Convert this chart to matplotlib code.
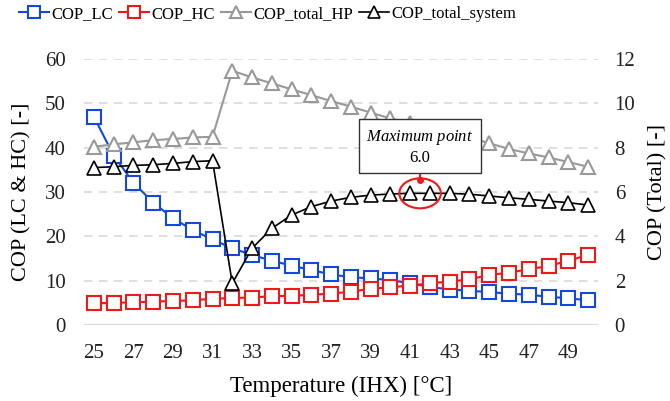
import matplotlib
matplotlib.use("Agg")
import matplotlib.pyplot as plt
from matplotlib.patches import Ellipse
from matplotlib.lines import Line2D

plt.rcParams['font.family'] = ['Liberation Serif', 'DejaVu Serif']
plt.rcParams['mathtext.fontset'] = 'custom'
plt.rcParams['mathtext.rm'] = 'Liberation Serif'
plt.rcParams['mathtext.it'] = 'Liberation Serif:italic'

temperature = list(range(25, 51))
cop_lc = [47.0, 38.2, 32.1, 27.6, 24.1, 21.4, 19.3, 17.3, 15.8, 14.5, 13.4, 12.4, 11.4,
          10.8, 10.5, 10.15, 9.4, 8.6, 8.0, 7.75, 7.4, 7.1, 6.8, 6.4, 6.0, 5.6]
cop_hc = [4.9, 5.0, 5.1, 5.3, 5.4, 5.6, 5.9, 6.1, 6.2, 6.5, 6.6, 6.8, 7.1,
          7.5, 8.2, 8.5, 8.9, 9.4, 9.8, 10.3, 11.3, 11.8, 12.6, 13.3, 14.5, 15.8]
cop_total_hp = [8.04, 8.15, 8.24, 8.34, 8.39, 8.46, 8.49, 11.47, 11.17, 10.9, 10.63, 10.37, 10.1,
                9.85, 9.58, 9.32, 9.1, 8.92, 8.68, 8.47, 8.2, 7.94, 7.74, 7.56, 7.35, 7.14]
cop_total_system = [7.1, 7.14, 7.2, 7.23, 7.29, 7.37, 7.41, 1.88, 3.46, 4.36, 4.96, 5.34, 5.59,
                    5.76, 5.86, 5.91, 5.94, 5.94, 5.94, 5.9, 5.82, 5.74, 5.67, 5.59, 5.52, 5.41]
xticks = list(range(25, 50, 2))
left_ticks = [0, 10, 20, 30, 40, 50, 60]
right_ticks = [0, 2, 4, 6, 8, 10, 12]
max_point_label = "6.0"

BLUE = '#1446e0'
RED = '#f01818'
GREY = '#999999'
BLACK = '#000000'

fig = plt.figure(figsize=(6.7, 4.01), dpi=100)
ax1 = fig.add_axes([0.1254, 0.1895, 0.7671, 0.6634])
ax2 = ax1.twinx()

ms = 10
ax1.plot(temperature, cop_lc, color=BLUE, lw=1.5, marker='s', ms=ms, mfc='white',
         mec=BLUE, mew=1.5, label='COP_LC', zorder=3)
ax1.plot(temperature, cop_hc, color=RED, lw=1.5, marker='s', ms=ms, mfc='white',
         mec=RED, mew=1.5, label='COP_HC', zorder=3)
ax2.plot(temperature, cop_total_hp, color=GREY, lw=1.5, marker='^', ms=ms, mfc='white',
         mec=GREY, mew=1.5, label='COP_total_HP', zorder=3)
ax2.plot(temperature, cop_total_system, color=BLACK, lw=1.2, marker='^', ms=ms, mfc='white',
         mec=BLACK, mew=1.2, label='COP_total_system', zorder=3)

ax1.set_xlim(24.5, 50.5)
ax1.set_ylim(0, 60)
ax2.set_ylim(0, 12)
ax1.set_xticks(xticks)
ax1.set_yticks(left_ticks)
ax2.set_yticks(right_ticks)

for ax in (ax1, ax2):
    for s in ax.spines.values():
        s.set_visible(False)
    ax.tick_params(length=0, labelsize=15, colors='#222222')
ax1.tick_params(axis='x', pad=14)
ax1.tick_params(axis='y', pad=13)
ax2.tick_params(axis='y', pad=12)

for v in left_ticks[1:]:
    ax1.axhline(v, color='#d9d9d9', lw=1.2, ls=(0, (5, 4)), zorder=0)
ax1.axhline(0, color='#d9d9d9', lw=1.5, zorder=0)

ax1.set_xlabel('Temperature (IHX) [°C]', fontsize=16.5, labelpad=9)
ax1.set_ylabel('COP (LC & HC) [-]', fontsize=16, labelpad=10)
ax2.set_ylabel('COP (Total) [-]', fontsize=16, labelpad=9)

# annotation
ell = Ellipse((41.5, 5.94), 2.1, 1.35, fill=False, edgecolor=RED, lw=1.5, zorder=5)
ax2.add_patch(ell)
ax2.plot([41.5], [6.55], 'o', color=RED, ms=4, zorder=6)
ax2.annotate('$\\it{Maximum\\ point}$\n' + max_point_label, xy=(41.5, 6.55), xytext=(41.5, 8.03),
             ha='center', va='center', fontsize=12, zorder=7, linespacing=1.25,
             bbox=dict(boxstyle='square,pad=0.42', fc='white', ec='#333333', lw=1),
             arrowprops=dict(arrowstyle='-', color=RED, lw=1.5, shrinkA=0, shrinkB=0))

handles = [
    Line2D([], [], color=BLUE, lw=1.5, marker='s', ms=8, mfc='white', mec=BLUE, mew=1.5),
    Line2D([], [], color=RED, lw=1.5, marker='s', ms=8, mfc='white', mec=RED, mew=1.5),
    Line2D([], [], color=GREY, lw=1.5, marker='^', ms=8, mfc='white', mec=GREY, mew=1.5),
    Line2D([], [], color=BLACK, lw=1.2, marker='^', ms=8, mfc='white', mec=BLACK, mew=1.2),
]
labels = ['COP_LC', 'COP_HC', 'COP_total_HP', 'COP_total_system']
fig.legend(handles, labels, loc='center', bbox_to_anchor=(0.40, 0.965), ncol=4, frameon=False,
           fontsize=12, handlelength=1.8, handletextpad=0.15, columnspacing=0.35, borderaxespad=0)

fig.savefig('out.png', dpi=100)
